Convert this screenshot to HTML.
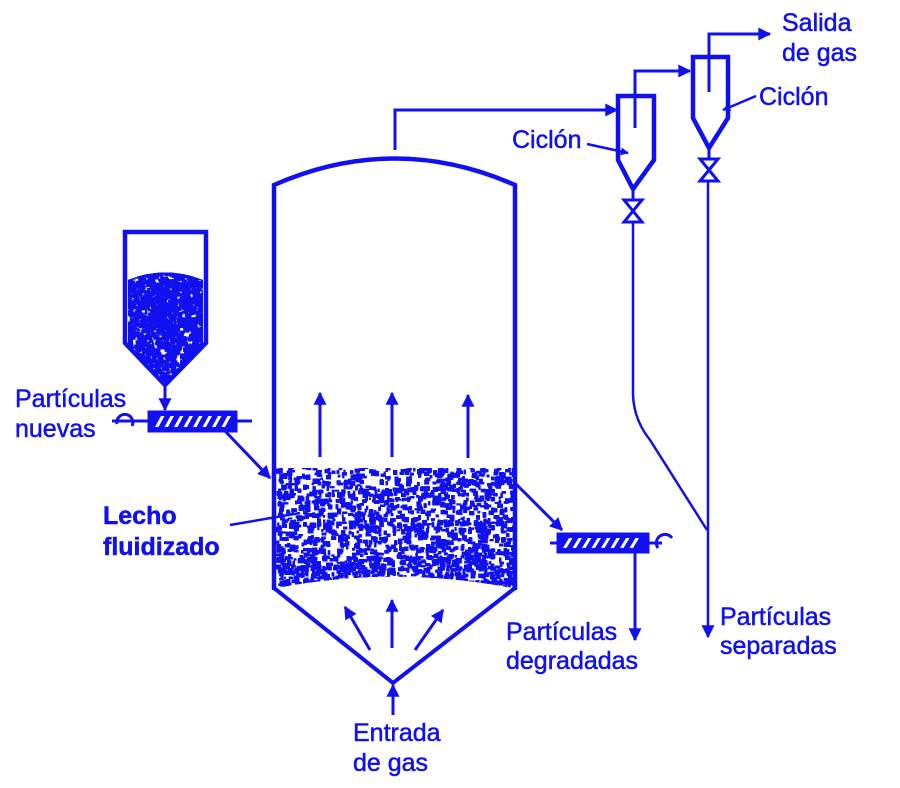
<!DOCTYPE html>
<html><head><meta charset="utf-8"><style>
html,body{margin:0;padding:0;background:#fff}
svg{display:block}
text{font-family:"Liberation Sans",sans-serif;fill:#1010f0;font-size:25px;stroke:#1010f0;stroke-width:0.5}
</style></head><body>
<svg id="s" width="900" height="788" viewBox="0 0 900 788" xmlns="http://www.w3.org/2000/svg">
<defs>
<marker id="a" viewBox="0 0 10 10" refX="9" refY="5" markerWidth="9" markerHeight="8" markerUnits="userSpaceOnUse" orient="auto"><path d="M0,0L10,5L0,10z" fill="#1010f0"/></marker>
<marker id="b" viewBox="0 0 10 10" refX="9" refY="5" markerWidth="17" markerHeight="13" markerUnits="userSpaceOnUse" orient="auto"><path d="M0,0L10,5L0,10z" fill="#1010f0"/></marker>
<clipPath id="bedc"><path d="M276,468 L513,468 L513,588 Q395,565 276,588Z"/></clipPath>
<clipPath id="hopc"><path d="M128,280 Q165,265 203,280 L203,343 L165,383 L128,343Z"/></clipPath>
</defs>
<g stroke="#1010f0" fill="none" stroke-width="3">
<path d="M274,590 L274,185 Q395,132 515,185 L515,590" stroke-width="4.5"/>
<path d="M274,588 L393,683 L515,588" stroke-width="4"/>
<path d="M125,232 L206,232 L206,343 L165,385 L125,343Z" stroke-width="4.5"/>
<line x1="165" y1="385" x2="165" y2="410" marker-end="url(#b)"/>
<line x1="112" y1="421" x2="252" y2="421" stroke-width="3"/>
<rect x="149" y="412" width="87" height="19" stroke-width="3" fill="#1010f0"/>
<path d="M117,424 A8,8 0 1 1 132,426" stroke-width="3"/>
<line x1="225" y1="431" x2="270" y2="478" marker-end="url(#b)"/>
<line x1="550" y1="543" x2="662" y2="543"/>
<rect x="558" y="534" width="90" height="18" stroke-width="3" fill="#1010f0"/>
<path d="M658,548 A8,8 0 1 1 672,538" stroke-width="3"/>
<line x1="515" y1="483" x2="562" y2="530" marker-end="url(#b)"/>
<line x1="635" y1="552" x2="635" y2="640" marker-end="url(#b)"/>
<line x1="320" y1="457" x2="320" y2="393" marker-end="url(#b)"/>
<line x1="392" y1="457" x2="392" y2="393" marker-end="url(#b)"/>
<line x1="468" y1="458" x2="468" y2="395" marker-end="url(#b)"/>
<line x1="370" y1="650" x2="345" y2="607" marker-end="url(#b)"/>
<line x1="392" y1="648" x2="392" y2="600" marker-end="url(#b)"/>
<line x1="415" y1="650" x2="443" y2="610" marker-end="url(#b)"/>
<line x1="393" y1="715" x2="393" y2="685" marker-end="url(#b)"/>
<path d="M395,150 L395,110 L617,110" marker-end="url(#b)"/>
<path d="M618,96 L654,96 L654,160 L633,189 L618,160Z" stroke-width="4.5"/>
<path d="M635,128 L635,71 L690,71" marker-end="url(#b)"/>
<path d="M624,200 L642,200 L624,222 L642,222Z" stroke-width="3"/>
<line x1="633" y1="189" x2="633" y2="200"/>
<path d="M633,222 L633,395 Q634,420 650,440 L707,530" stroke-width="2.5"/>
<path d="M693,57 L728,57 L728,118 L709,148 L693,118Z" stroke-width="4.5"/>
<path d="M709,92 L709,34 L770,34" marker-end="url(#b)"/>
<path d="M700,159 L718,159 L700,181 L718,181Z" stroke-width="3"/>
<line x1="709" y1="148" x2="709" y2="159"/>
<line x1="708" y1="181" x2="708" y2="637" stroke-width="2.5" marker-end="url(#b)"/>
<line x1="587" y1="144" x2="628" y2="153" stroke-width="2.5" marker-end="url(#a)"/>
<line x1="756" y1="96" x2="723" y2="110" stroke-width="2.5" marker-end="url(#a)"/>
<line x1="230" y1="525" x2="300" y2="513" stroke-width="2.5"/>
</g>
<g id="bed" clip-path="url(#bedc)" fill="#1010f0"></g>
<g id="hop" clip-path="url(#hopc)" fill="#1010f0"></g>
<g fill="#fff" id="scr"></g>
<text x="15" y="407">Partículas</text>
<text x="15" y="437">nuevas</text>
<text x="103" y="524" font-weight="bold">Lecho</text>
<text x="103" y="555" font-weight="bold">fluidizado</text>
<text x="353" y="741">Entrada</text>
<text x="353" y="771">de gas</text>
<text x="506" y="640">Partículas</text>
<text x="506" y="669">degradadas</text>
<text x="720" y="625">Partículas</text>
<text x="720" y="654">separadas</text>
<text x="512" y="148">Ciclón</text>
<text x="759" y="105">Ciclón</text>
<text x="782" y="31">Salida</text>
<text x="782" y="61">de gas</text>
</svg>
<script>
var s=1234567;function r(){s=(s*1103515245+12345)%2147483648;return s/2147483648;}
var NS="http://www.w3.org/2000/svg";
function fill(id,x0,y0,w,h,n,dens){var g=document.getElementById(id);
for(var i=0;i<n;i++){var x=x0+r()*w,y=y0+r()*h;var d=dens(y);if(r()>d)continue;
var e=document.createElementNS(NS,"rect");e.setAttribute("x",x.toFixed(1));e.setAttribute("y",y.toFixed(1));
e.setAttribute("width",(2+r()*3.5).toFixed(1));e.setAttribute("height",(2+r()*3.5).toFixed(1));g.appendChild(e);}}
fill("bed",276,466,238,124,14000,function(y){return y>555?1:0.6;});
fill("hop",126,265,80,120,4500,function(y){return 0.85;});
var g=document.getElementById("scr");
function hatch(x0,yb,n,step,h){for(var i=0;i<n;i++){var p=document.createElementNS(NS,"path");var x=x0+i*step;
p.setAttribute("d","M"+x+","+yb+" l6,-"+h+" l3.5,0 l-6,"+h+"z");g.appendChild(p);}}
hatch(155,427,8,9.5,11);hatch(563,548,8,9.5,10);
</script>
</body></html>
